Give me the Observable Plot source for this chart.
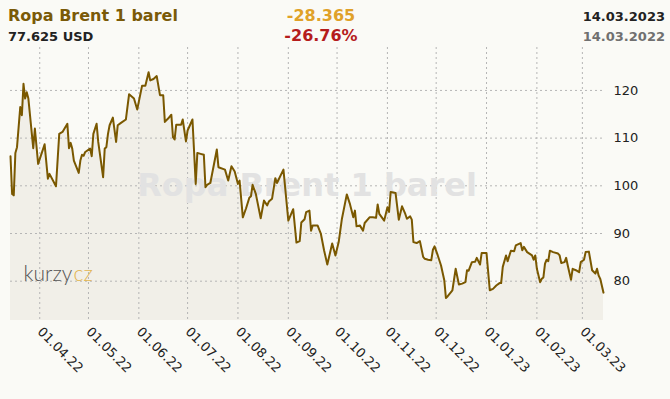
<!DOCTYPE html>
<html><head><meta charset="utf-8">
<script src="https://cdn.jsdelivr.net/npm/d3@7"></script>
<script src="https://cdn.jsdelivr.net/npm/@observablehq/plot@0.6"></script>
<style>
html,body{margin:0;padding:0;background:#fafaf6;}
#wrap{position:relative;width:670px;height:399px;overflow:hidden;font-family:"DejaVu Sans",Verdana,sans-serif;}
#hdr{position:relative;height:46px;}
.t{position:absolute;white-space:nowrap;font-weight:bold;line-height:1;}
#chart svg{display:block;}
</style></head><body>
<div id="wrap">
<div id="hdr">
<div class="t" style="left:8px;top:8px;font-size:16px;color:#7a5a08">Ropa Brent 1 barel</div>
<div class="t" style="left:8px;top:30px;font-size:13px;color:#222">77.625 USD</div>
<div class="t" style="left:221px;width:200px;text-align:center;top:8px;font-size:16px;color:#e0a128">-28.365</div>
<div class="t" style="left:221px;width:200px;text-align:center;top:28px;font-size:16px;color:#b51c1c">-26.76%</div>
<div class="t" style="right:5px;top:10px;font-size:13px;color:#222">14.03.2023</div>
<div class="t" style="right:5px;top:30px;font-size:13px;color:#707070">14.03.2022</div>
</div>
<div id="chart"></div>
</div>
<script>
const dates = [
"2022-03-14","2022-03-15","2022-03-16","2022-03-17","2022-03-18","2022-03-20","2022-03-21","2022-03-22","2022-03-23","2022-03-24",
"2022-03-25","2022-03-28","2022-03-29","2022-03-31","2022-04-04","2022-04-06","2022-04-07","2022-04-11","2022-04-13","2022-04-15",
"2022-04-18","2022-04-19","2022-04-20","2022-04-21","2022-04-22","2022-04-25","2022-04-26","2022-04-27","2022-04-28","2022-04-29",
"2022-05-02","2022-05-03","2022-05-04","2022-05-06","2022-05-07","2022-05-10","2022-05-11","2022-05-12","2022-05-13","2022-05-14",
"2022-05-16","2022-05-18","2022-05-19","2022-05-21","2022-05-24","2022-05-26","2022-05-29","2022-05-31","2022-06-03","2022-06-05",
"2022-06-07","2022-06-08","2022-06-10","2022-06-12","2022-06-14","2022-06-16","2022-06-17","2022-06-19","2022-06-21","2022-06-22",
"2022-06-23","2022-06-24","2022-06-27","2022-06-28","2022-06-30","2022-07-01","2022-07-04","2022-07-06","2022-07-07","2022-07-09",
"2022-07-11","2022-07-12","2022-07-13","2022-07-15","2022-07-19","2022-07-20","2022-07-24","2022-07-26","2022-07-28","2022-07-30",
"2022-08-01","2022-08-02","2022-08-04","2022-08-06","2022-08-08","2022-08-09","2022-08-10","2022-08-12","2022-08-15","2022-08-17",
"2022-08-19","2022-08-20","2022-08-22","2022-08-24","2022-08-25","2022-08-29","2022-09-01","2022-09-04","2022-09-06","2022-09-08",
"2022-09-09","2022-09-11","2022-09-12","2022-09-14","2022-09-15","2022-09-16","2022-09-19","2022-09-21","2022-09-23","2022-09-25",
"2022-09-28","2022-09-30","2022-10-02","2022-10-04","2022-10-07","2022-10-09","2022-10-11","2022-10-12","2022-10-13","2022-10-15",
"2022-10-17","2022-10-18","2022-10-21","2022-10-23","2022-10-25","2022-10-26","2022-10-27","2022-10-30","2022-11-01","2022-11-02",
"2022-11-03","2022-11-06","2022-11-08","2022-11-10","2022-11-12","2022-11-13","2022-11-15","2022-11-16","2022-11-17","2022-11-19",
"2022-11-21","2022-11-23","2022-11-24","2022-11-26","2022-11-28","2022-11-29","2022-11-30","2022-12-02","2022-12-04","2022-12-06",
"2022-12-07","2022-12-08","2022-12-11","2022-12-13","2022-12-15","2022-12-17","2022-12-19","2022-12-20","2022-12-21","2022-12-23",
"2022-12-25","2022-12-26","2022-12-28","2022-12-29","2023-01-01","2023-01-03","2023-01-05","2023-01-07","2023-01-09","2023-01-10",
"2023-01-11","2023-01-13","2023-01-14","2023-01-16","2023-01-18","2023-01-19","2023-01-22","2023-01-23","2023-01-24","2023-01-26",
"2023-01-29","2023-01-30","2023-01-31","2023-02-01","2023-02-03","2023-02-04","2023-02-05","2023-02-06","2023-02-07","2023-02-08",
"2023-02-09","2023-02-11","2023-02-14","2023-02-15","2023-02-16","2023-02-18","2023-02-19","2023-02-20","2023-02-22","2023-02-23",
"2023-02-25","2023-02-27","2023-02-28","2023-03-02","2023-03-03","2023-03-05","2023-03-07","2023-03-09","2023-03-10","2023-03-11",
"2023-03-12","2023-03-14"
];
const prices = [
106.2,98.3,98.0,106.9,108.1,116.5,114.8,121.4,118.3,119.6,
118.3,107.9,112.0,104.6,108.7,101.5,102.5,99.9,110.9,111.3,
113.0,107.9,109.0,107.8,105.3,102.7,105.3,106.5,106.3,107.1,
107.8,106.2,110.9,113.0,109.2,101.8,107.8,108.1,110.9,112.7,
114.3,109.2,112.7,113.2,113.9,119.2,118.3,116.0,121.0,121.0,
123.8,122.1,122.4,123.0,119.0,119.0,113.4,114.1,114.9,110.2,
109.7,112.8,112.8,113.9,109.3,111.6,113.9,100.4,106.9,106.7,
106.5,99.7,100.2,100.6,107.6,103.9,103.4,101.1,104.1,103.0,
100.4,101.1,93.4,95.3,97.5,97.8,100.2,98.3,93.2,96.9,
95.9,96.7,97.3,101.6,100.6,103.4,92.7,95.1,88.1,88.4,
92.3,93.0,94.5,94.8,90.6,91.7,91.7,90.0,86.5,83.5,
87.9,85.4,88.2,93.1,98.2,96.1,93.4,94.8,91.5,91.7,
90.6,92.2,93.4,93.4,93.3,96.1,94.1,92.7,95.5,94.5,
98.7,98.5,92.9,95.7,94.1,93.1,93.6,92.9,88.2,88.0,
88.4,85.1,84.7,84.5,84.4,86.6,87.3,85.4,83.3,80.2,
76.5,76.8,78.1,82.6,79.3,79.5,79.8,82.3,82.2,84.0,
84.1,84.9,83.5,85.9,85.9,78.1,78.4,79.1,79.6,79.6,
83.0,85.4,84.2,86.4,86.3,87.5,88.0,86.5,87.2,86.1,
85.4,84.5,85.4,82.6,79.8,80.5,80.8,83.7,84.5,84.2,
86.4,86.1,85.8,85.4,83.8,84.0,84.9,83.3,80.3,82.6,
82.3,81.9,84.0,84.5,86.1,86.2,82.3,81.6,82.6,81.2,
80.5,77.6
];
const monthTicks = ["2022-04-01","2022-05-01","2022-06-01","2022-07-01","2022-08-01","2022-09-01",
  "2022-10-01","2022-11-01","2022-12-01","2023-01-01","2023-02-01","2023-03-01"];
const yTicks = [80, 90, 100, 110, 120];
const xRange = ["2022-03-14", "2023-03-14"];
const yRange = [71.76, 129.0];
const titleText = "Ropa Brent 1 barel";

const data = dates.map((d, i) => ({date: new Date(d), price: prices[i]}));
const tickDates = monthTicks.map(d => new Date(d));
const fmt = d3.utcFormat("%d.%m.%y");

const chart = Plot.plot({
  width: 670,
  height: 353,
  marginTop: 1,
  marginBottom: 79,
  marginLeft: 10,
  marginRight: 67,
  style: {background: "transparent", fontFamily: "'DejaVu Sans', Verdana, sans-serif", fontSize: "13px", color: "#222", overflow: "visible"},
  x: {type: "utc", domain: xRange.map(d => new Date(d)), ticks: tickDates, tickFormat: fmt, tickRotate: 45, tickSize: 0, tickPadding: 9, label: null},
  y: {domain: yRange, axis: "right", ticks: yTicks, tickSize: 0, tickPadding: 10, label: null},
  marks: [
    Plot.areaY(data, {x: "date", y1: yRange[0], y2: "price", fill: "#f1efe8"}),
    Plot.ruleX(tickDates, {stroke: "#b5b5b5", strokeDasharray: "2,3", strokeWidth: 1}),
    Plot.ruleY(yTicks, {stroke: "#b5b5b5", strokeDasharray: "2,3", strokeWidth: 1}),
    Plot.text([titleText], {frameAnchor: "middle", fontSize: 32, fontWeight: "bold", fill: "#e2e2e2", dy: 2}),
    Plot.text(["kurzy"], {frameAnchor: "bottom-left", textAnchor: "start", dx: 13, dy: -40, fontSize: 21, fontWeight: 300, fontFamily: "Lato, Roboto, sans-serif", fill: "#555"}),
    Plot.text(["cz"], {frameAnchor: "bottom-left", textAnchor: "start", dx: 63, dy: -40, fontSize: 21, fontWeight: 300, fontFamily: "Lato, Roboto, sans-serif", fill: "#e2b550"}),
    Plot.line(data, {x: "date", y: "price", stroke: "#7a5800", strokeWidth: 2})
  ]
});
document.getElementById("chart").appendChild(chart);
</script>
</body></html>
